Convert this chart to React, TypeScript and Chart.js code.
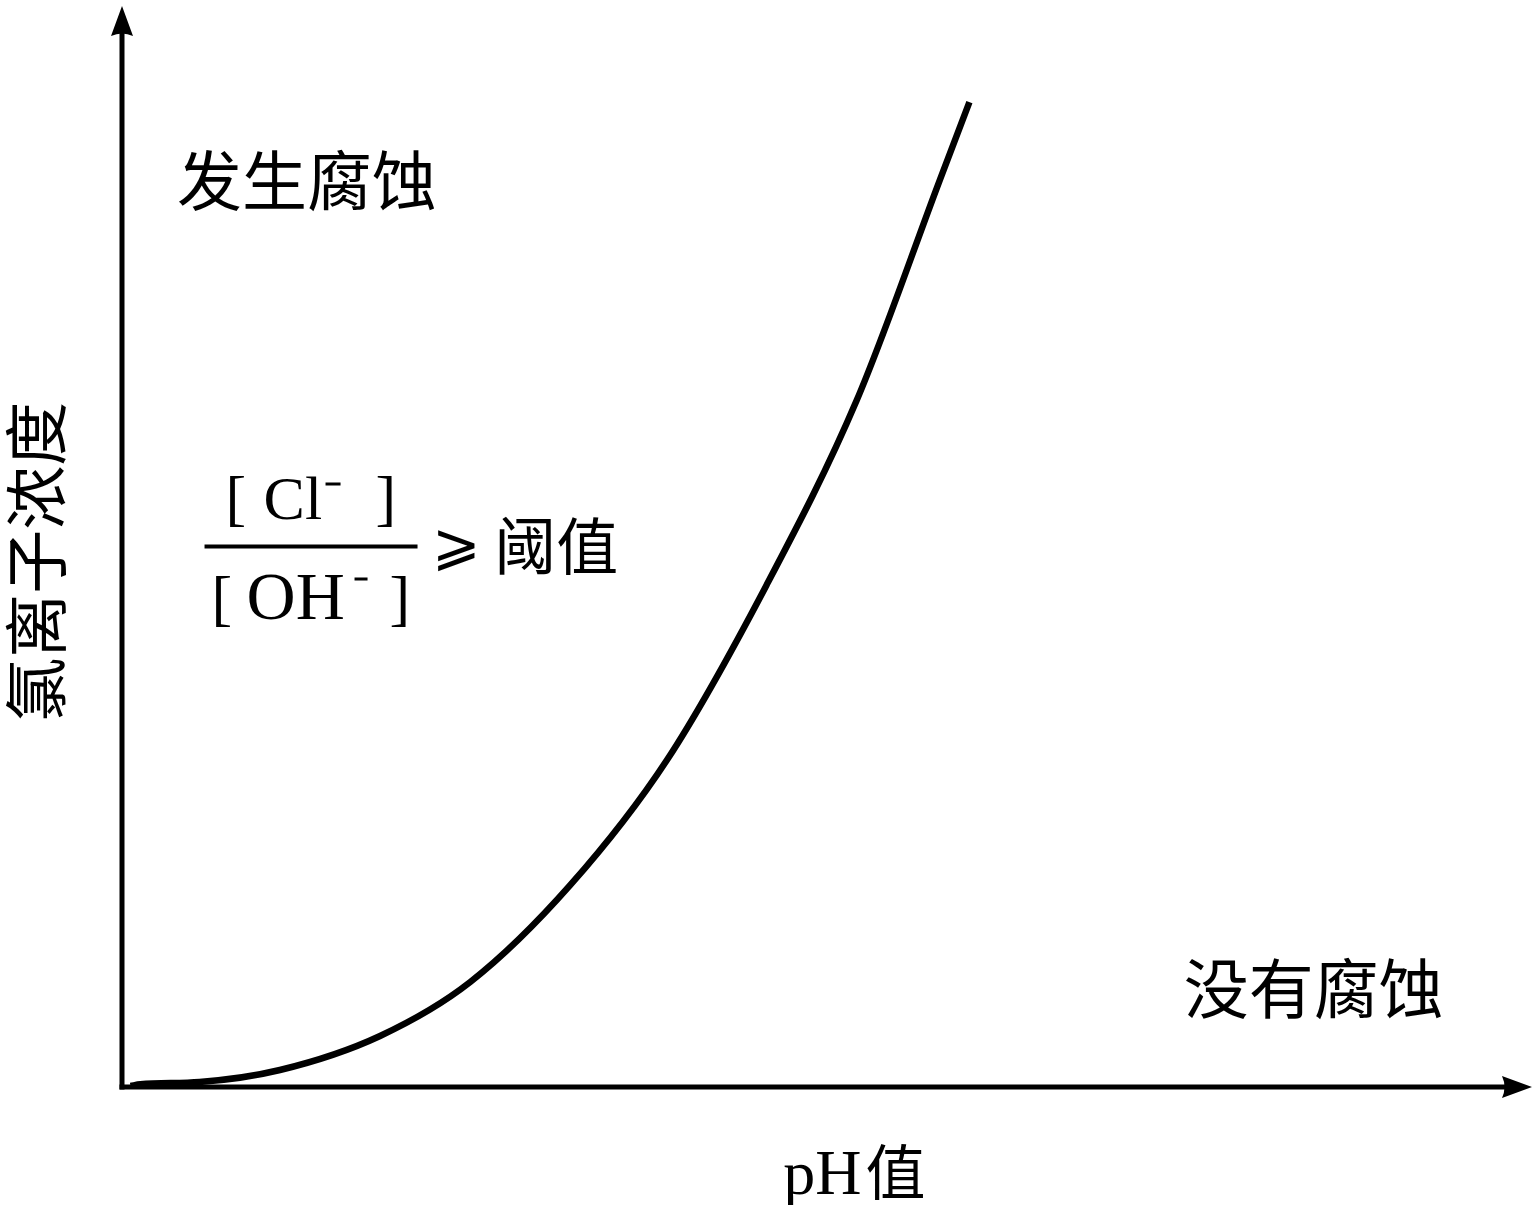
import React, { useEffect, useRef } from "react";
import { Chart, registerables } from "chart.js";

Chart.register(...registerables);

// pH (arbitrary units, 0-100 across the axis)
const phValues = [0.6, 1.3, 5.5, 11.2, 18.3, 24.7, 31.8, 38.65, 45.7, 52.1, 58.0, 60.1];
// chloride concentration (arbitrary units, 0-100 up the axis)
const chlorideValues = [0.1, 0.25, 0.46, 1.57, 4.72, 9.71, 18.69, 30.25, 46.4, 63.5, 83.9, 91.1];

const xAxisTitleLatin = "pH";
const xAxisTitleCjk = "值";
const yAxisTitle = "氯离子浓度";
const regionAbove = "发生腐蚀";
const regionBelow = "没有腐蚀";
const numeratorIon = "Cl";
const denominatorIon = "OH";
const thresholdText = "阈值";

const CJK = '"Noto Sans CJK SC", sans-serif';
const SERIF = '"Liberation Serif", "Times New Roman", serif';

const decorPlugin = {
  id: "decor",
  afterDatasetsDraw(chart: any) {
    const { ctx, chartArea, scales } = chart;
    const xs = scales.x;
    const ys = scales.y;
    const px = (v: number) => xs.getPixelForValue(v);
    const py = (v: number) => ys.getPixelForValue(v);
    ctx.save();
    ctx.fillStyle = "#000";
    ctx.strokeStyle = "#000";

    // axes
    const x0 = px(0);
    const y0 = py(0);
    ctx.lineWidth = 5;
    ctx.lineCap = "butt";
    ctx.beginPath();
    ctx.moveTo(x0, y0 + 2.5);
    ctx.lineTo(x0, chartArea.top + 25);
    ctx.stroke();
    ctx.beginPath();
    ctx.moveTo(x0 - 2.5, y0);
    ctx.lineTo(chartArea.right - 25, y0);
    ctx.stroke();
    // arrowheads
    ctx.beginPath();
    ctx.moveTo(x0, chartArea.top);
    ctx.lineTo(x0 - 11, chartArea.top + 30);
    ctx.quadraticCurveTo(x0, chartArea.top + 25, x0 + 11, chartArea.top + 30);
    ctx.closePath();
    ctx.fill();
    ctx.beginPath();
    ctx.moveTo(chartArea.right, y0);
    ctx.lineTo(chartArea.right - 30, y0 - 11);
    ctx.quadraticCurveTo(chartArea.right - 25, y0, chartArea.right - 30, y0 + 11);
    ctx.closePath();
    ctx.fill();

    // region labels
    ctx.textBaseline = "middle";
    ctx.textAlign = "left";
    ctx.font = `65px ${CJK}`;
    ctx.fillText(regionAbove, px(3.9), py(83.9));
    ctx.fillText(regionBelow, px(75.3), py(9.1));

    // x axis title
    const tcy = chartArea.bottom + 85;
    const tLeft = px(46.9);
    ctx.textAlign = "left";
    ctx.font = `64px ${SERIF}`;
    ctx.textBaseline = "alphabetic";
    ctx.fillText(xAxisTitleLatin, tLeft, tcy + 22);
    const tw1 = ctx.measureText(xAxisTitleLatin).width;
    ctx.font = `60px ${CJK}`;
    ctx.textBaseline = "middle";
    ctx.fillText(xAxisTitleCjk, tLeft + tw1 + 4, tcy);

    // y axis title
    ctx.save();
    ctx.translate(36, py(48.6));
    ctx.rotate(-Math.PI / 2);
    ctx.textAlign = "center";
    ctx.font = `64px ${CJK}`;
    ctx.fillText(yAxisTitle, 0, 0);
    ctx.restore();

    // fraction
    const fx = px(13.3);
    const barY = py(50);
    ctx.lineWidth = 4;
    ctx.beginPath();
    ctx.moveTo(fx - 105, barY);
    ctx.lineTo(fx + 108, barY);
    ctx.stroke();

    ctx.textBaseline = "alphabetic";
    ctx.textAlign = "left";
    // numerator
    ctx.font = `62px ${SERIF}`;
    const nb = barY - 28;
    ctx.fillText("[", fx - 84, nb);
    ctx.fillText(numeratorIon, fx - 46, nb);
    ctx.fillText("]", fx + 66, nb);
    ctx.fillRect(fx + 16, nb - 36, 15, 3);
    // denominator
    const db = barY + 72;
    ctx.font = `62px ${SERIF}`;
    ctx.fillText("[", fx - 98, db);
    ctx.font = `68px ${SERIF}`;
    ctx.fillText(denominatorIon, fx - 63, db);
    ctx.font = `62px ${SERIF}`;
    ctx.fillText("]", fx + 80, db);
    ctx.fillRect(fx + 45, db - 41, 13, 3);

    // >= threshold
    ctx.font = `58px ${SERIF}`;
    ctx.textBaseline = "middle";
    ctx.fillText("⩾", px(22.0), barY + 2);
    ctx.font = `62px ${CJK}`;
    ctx.fillText(thresholdText, px(26.4), barY);

    ctx.restore();
  },
};

export default function App() {
  const ref = useRef<HTMLCanvasElement | null>(null);
  useEffect(() => {
    document.body.style.margin = "0";
    const chart = new Chart(ref.current!, {
      type: "line",
      data: {
        datasets: [
          {
            label: yAxisTitle,
            data: phValues.map((x, i) => ({ x, y: chlorideValues[i] })),
            borderColor: "#000",
            borderWidth: 6.5,
            borderCapStyle: "butt",
            pointRadius: 0,
            cubicInterpolationMode: "monotone",
            fill: false,
          },
        ],
      },
      options: {
        responsive: false,
        animation: false,
        layout: { padding: { left: 122, right: 4, top: 6, bottom: 118 } },
        plugins: { legend: { display: false }, tooltip: { enabled: false } },
        scales: {
          x: { type: "linear", min: 0, max: 100, display: false },
          y: { type: "linear", min: 0, max: 100, display: false },
        },
      },
      plugins: [decorPlugin],
    });
    return () => chart.destroy();
  }, []);
  return <canvas ref={ref} width={1536} height={1205} style={{ display: "block" }} />;
}
